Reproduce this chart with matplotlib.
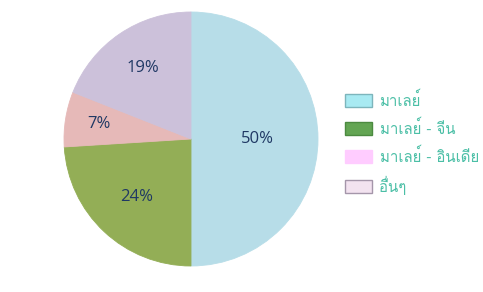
import numpy as np
import matplotlib
matplotlib.use('Agg')
import matplotlib.pyplot as plt
from matplotlib.patches import Patch

labels = ['มาเลย์', 'มาเลย์ - จีน', 'มาเลย์ - อินเดีย', 'อื่นๆ']
values = [50, 24, 7, 19]
pie_colors = ['#B7DDE8', '#93AE56', '#E6B9B8', '#CCC1DA']
legend_colors = ['#A8EAF2', '#63A553', '#FFCCFF', '#F3E3F0']
legend_edges = ['#7DB5BC', '#4C8A40', '#FFCCFF', '#A596AA']
label_dist = [0.52, 0.63, 0.73, 0.68]

fig = plt.figure(figsize=(4.83, 2.92), dpi=100)
ax = fig.add_axes([64 / 483, 26 / 292, 254 / 483, 254 / 292])

wedges, texts, autotexts = ax.pie(values, colors=pie_colors, startangle=90, counterclock=False,
                                  autopct='%d%%', pctdistance=0.6,
                                  textprops={'fontsize': 12, 'color': '#1F3864', 'family': 'Open Sans'})
for w, t, d, c in zip(wedges, autotexts, label_dist, pie_colors):
    w.set_edgecolor(c)
    w.set_linewidth(0.6)
    ang = np.deg2rad((w.theta1 + w.theta2) / 2)
    t.set_position((d * np.cos(ang), d * np.sin(ang)))
ax.set_xlim(-1, 1)
ax.set_ylim(-1, 1)
ax.set_aspect('equal')

handles = [Patch(facecolor=c, edgecolor=e, linewidth=1) for c, e in zip(legend_colors, legend_edges)]
leg = fig.legend(handles, labels, loc='center left', bbox_to_anchor=(345 / 483, 0.51), frameon=False,
                 prop={'family': ['Loma', 'DejaVu Sans'], 'size': 10.8},
                 borderaxespad=0, borderpad=0,
                 handlelength=1.8, handleheight=0.95, labelspacing=0.72, handletextpad=0.5)
for t in leg.get_texts():
    t.set_color('#4BBFA6')

fig.savefig('out.png')
